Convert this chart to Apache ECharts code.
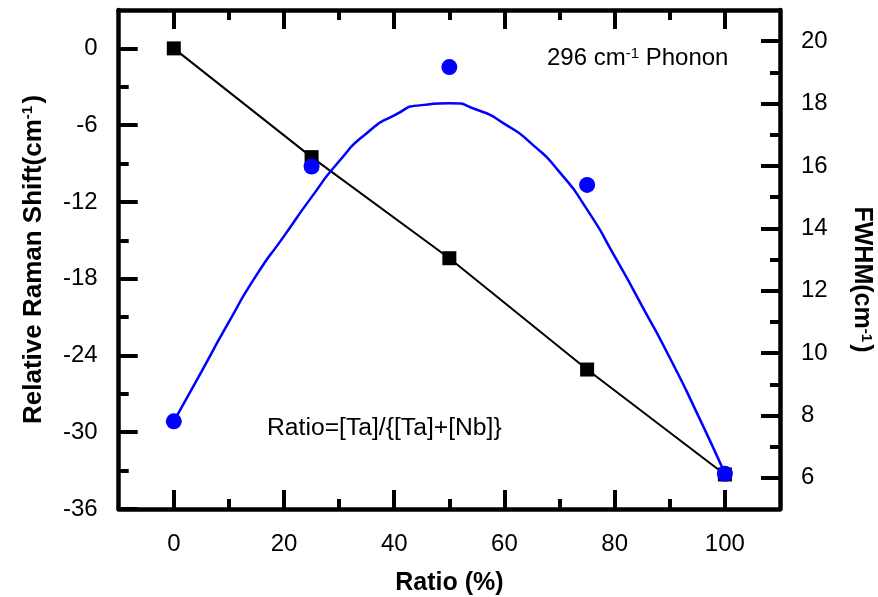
<!DOCTYPE html>
<html>
<head>
<meta charset="utf-8">
<script src="https://cdn.jsdelivr.net/npm/echarts@6/dist/echarts.min.js"></script>
<style>
  html, body { margin: 0; padding: 0; background: #fff; }
  #chart { width: 878px; height: 597px; }
</style>
</head>
<body>
<div id="chart"></div>
<script>
// Composition ratio [Ta]/([Ta]+[Nb]) in percent
const ratio = [0, 25, 50, 75, 100];
// Relative Raman shift of the 296 cm-1 phonon (left axis)
const ramanShift = [0, -8.5, -16.4, -25.1, -33.3];
// FWHM of the same phonon (right axis)
const fwhm = [7.81, 15.98, 19.17, 15.39, 6.13];
// Fitted FWHM curve, sampled along the ratio axis
const fitRatio = [0, 5, 10, 15, 20, 25, 30, 35, 40, 45, 50, 55, 60, 65, 70, 75, 80, 85, 90, 95, 100];
const fitFwhm = [7.81, 9.4, 11.0, 12.5, 13.75, 15.0, 16.15, 17.05, 17.62, 17.95, 18.01, 17.8, 17.35, 16.7, 15.8, 14.6, 13.1, 11.5, 9.85, 8.05, 6.13];

// Tick positions
const xMajorTicks = [0, 20, 40, 60, 80, 100];
const xMinorTicks = [10, 30, 50, 70, 90];
const shiftMajorTicks = [-36, -30, -24, -18, -12, -6, 0];
const shiftMinorTicks = [-33, -27, -21, -15, -9, -3];
const fwhmMajorTicks = [6, 8, 10, 12, 14, 16, 18, 20];
const fwhmMinorTicks = [7, 9, 11, 13, 15, 17, 19];

const FONT = '"Liberation Sans", Arial, Helvetica, sans-serif';
const AXIS_W = 4.5;
const MAJOR_LEN = 19;
const MINOR_LEN = 10;
const TICK_FONT = 24;

const supStyle = { fontSize: 15, fontWeight: 'bold', fontFamily: FONT, color: '#000', verticalAlign: 'top', lineHeight: 14 };
const supPlain = { fontSize: 15, fontFamily: FONT, color: '#000', verticalAlign: 'top', lineHeight: 14 };

function tickAxis(values, len, extra) {
  return Object.assign({
    type: 'value',
    axisLine: { show: false, onZero: false },
    axisTick: { show: true, inside: true, length: len, customValues: values, lineStyle: { color: '#000', width: 4 } },
    axisLabel: { show: false },
    splitLine: { show: false }
  }, extra);
}

const chart = echarts.init(document.getElementById('chart'), null, { renderer: 'canvas' });

const xRange = { min: -10, max: 110 };
const shiftRange = { min: -36, max: 3 };
const fwhmRange = { min: 5, max: 21 };

chart.setOption({
  animation: false,
  backgroundColor: '#fff',
  grid: { left: 118.7, right: 98, top: 10, bottom: 88, containLabel: false, outerBoundsMode: 'none' },
  xAxis: [
    Object.assign({
      type: 'value', position: 'bottom',
      name: 'Ratio (%)', nameLocation: 'middle', nameGap: 62,
      nameTextStyle: { fontFamily: FONT, fontSize: 25, fontWeight: 'bold', color: '#000' },
      axisLine: { show: true, onZero: false, lineStyle: { color: '#000', width: AXIS_W } },
      axisTick: { show: true, inside: true, length: MAJOR_LEN, customValues: xMajorTicks, lineStyle: { color: '#000', width: 4 } },
      axisLabel: { show: true, customValues: xMajorTicks, margin: 23, fontFamily: FONT, fontSize: TICK_FONT, color: '#000' },
      splitLine: { show: false }
    }, xRange),
    tickAxis(xMinorTicks, MINOR_LEN, Object.assign({ position: 'bottom' }, xRange)),
    Object.assign({
      type: 'value', position: 'top',
      axisLine: { show: true, onZero: false, lineStyle: { color: '#000', width: AXIS_W } },
      axisTick: { show: true, inside: true, length: MAJOR_LEN, customValues: xMajorTicks, lineStyle: { color: '#000', width: 4 } },
      axisLabel: { show: false },
      splitLine: { show: false }
    }, xRange),
    tickAxis(xMinorTicks, MINOR_LEN, Object.assign({ position: 'top' }, xRange))
  ],
  yAxis: [
    Object.assign({
      type: 'value', position: 'left',
      name: 'Relative Raman Shift(cm{sup|-1}{sp| })', nameLocation: 'middle', nameGap: 72, nameRotate: 90,
      nameTextStyle: {
        fontFamily: FONT, fontSize: 26, fontWeight: 'bold', color: '#000',
        rich: { sup: supStyle, sp: { fontSize: 8 } }
      },
      axisLine: { show: true, onZero: false, lineStyle: { color: '#000', width: AXIS_W } },
      axisTick: { show: true, inside: true, length: MAJOR_LEN, customValues: shiftMajorTicks, lineStyle: { color: '#000', width: 4 } },
      axisLabel: { show: true, customValues: shiftMajorTicks, margin: 21, fontFamily: FONT, fontSize: TICK_FONT, color: '#000' },
      splitLine: { show: false }
    }, shiftRange),
    tickAxis(shiftMinorTicks, MINOR_LEN, Object.assign({ position: 'left' }, shiftRange)),
    Object.assign({
      type: 'value', position: 'right',
      name: 'FWHM(cm{sup|-1}{sp| })', nameLocation: 'middle', nameGap: 69, nameRotate: -90,
      nameTextStyle: {
        fontFamily: FONT, fontSize: 25, fontWeight: 'bold', color: '#000',
        padding: [0, 0, 0, 40],
        rich: { sup: supStyle, sp: { fontSize: 8 } }
      },
      axisLine: { show: true, onZero: false, lineStyle: { color: '#000', width: AXIS_W } },
      axisTick: { show: true, inside: true, length: MAJOR_LEN, customValues: fwhmMajorTicks, lineStyle: { color: '#000', width: 4 } },
      axisLabel: { show: true, customValues: fwhmMajorTicks, margin: 21, fontFamily: FONT, fontSize: TICK_FONT, color: '#000' },
      splitLine: { show: false }
    }, fwhmRange),
    tickAxis(fwhmMinorTicks, MINOR_LEN, Object.assign({ position: 'right' }, fwhmRange))
  ],
  series: [
    {
      name: 'Raman shift',
      type: 'line',
      xAxisIndex: 0, yAxisIndex: 0,
      data: ratio.map((r, i) => [r, ramanShift[i]]),
      symbol: 'rect', symbolSize: 14,
      itemStyle: { color: '#000', opacity: 1 },
      lineStyle: { color: '#000', width: 2 },
      z: 3
    },
    {
      name: 'FWHM fit',
      type: 'line',
      xAxisIndex: 0, yAxisIndex: 2,
      data: fitRatio.map((r, i) => [r, fitFwhm[i]]),
      smooth: 0.7,
      showSymbol: false, symbol: 'none',
      lineStyle: { color: '#0000ff', width: 2.5 },
      z: 4
    },
    {
      name: 'FWHM',
      type: 'scatter',
      xAxisIndex: 0, yAxisIndex: 2,
      data: ratio.map((r, i) => [r, fwhm[i]]),
      symbol: 'circle', symbolSize: 16,
      itemStyle: { color: '#0000ff', opacity: 1 },
      z: 5
    }
  ],
  graphic: [
    {
      type: 'text', x: 547, y: 58, z: 10,
      style: {
        text: '296 cm{sup|-1} Phonon',
        fontFamily: FONT, fontSize: 24, fill: '#000',
        verticalAlign: 'middle', align: 'left',
        rich: { sup: supPlain }
      }
    },
    {
      type: 'text', x: 267, y: 428, z: 10,
      style: {
        text: 'Ratio=[Ta]/{[Ta]+[Nb]}',
        fontFamily: FONT, fontSize: 24.7, fill: '#000',
        verticalAlign: 'middle', align: 'left'
      }
    }
  ]
});
</script>
</body>
</html>
